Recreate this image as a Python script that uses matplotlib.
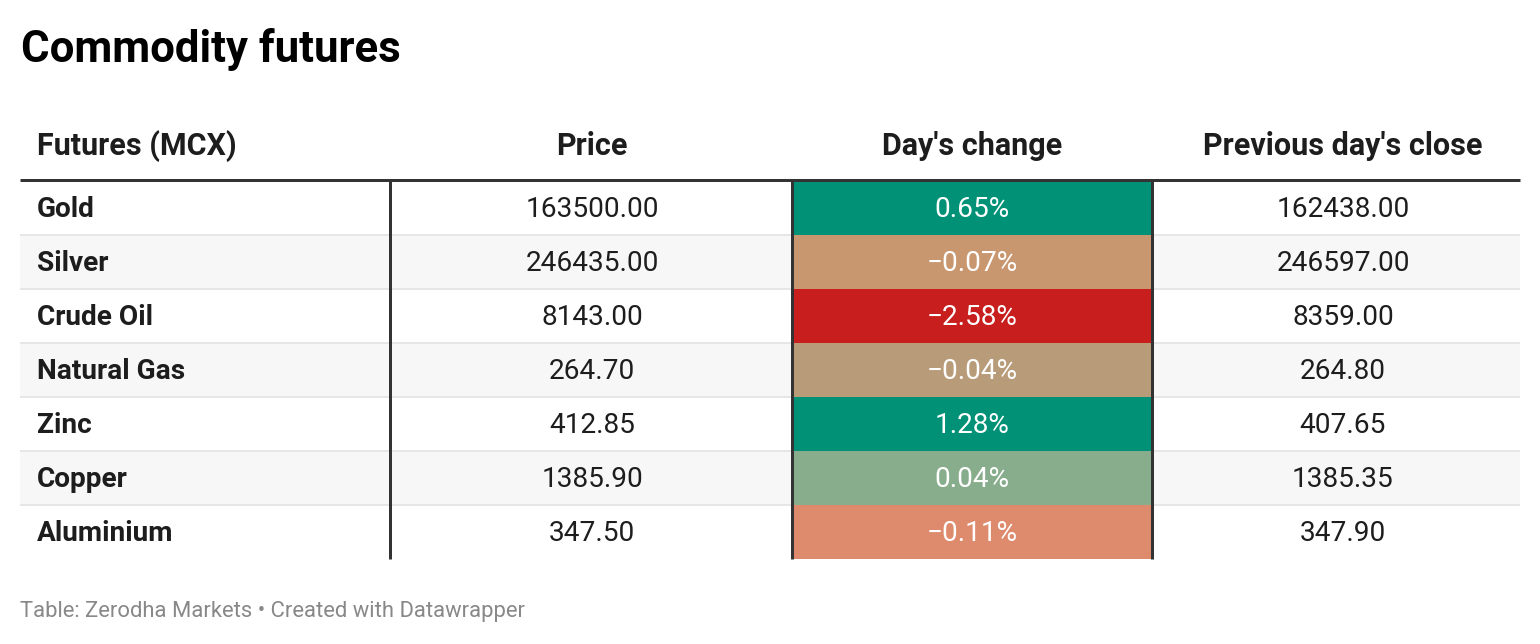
import matplotlib.pyplot as plt
from matplotlib.patches import Rectangle

plt.rcParams['font.family'] = ['Roboto', 'DejaVu Sans']

title = "Commodity futures"
footer = "Table: Zerodha Markets • Created with Datawrapper"

headers = ["Futures (MCX)", "Price", "Day's change", "Previous day's close"]
futures = ["Gold", "Silver", "Crude Oil", "Natural Gas", "Zinc", "Copper", "Aluminium"]
price = [163500.00, 246435.00, 8143.00, 264.70, 412.85, 1385.90, 347.50]
change = [0.65, -0.07, -2.58, -0.04, 1.28, 0.04, -0.11]
prev_close = [162438.00, 246597.00, 8359.00, 264.80, 407.65, 1385.35, 347.90]

# colours of the day's change cells, as shown
change_colors = ["#009177", "#c8966f", "#c81e1e", "#b89b79", "#009177", "#88ad8c", "#de8a6c"]

W, H = 1540, 644
fig = plt.figure(figsize=(W / 100, H / 100), dpi=100)
ax = fig.add_axes([0, 0, 1, 1])
ax.set_xlim(0, W)
ax.set_ylim(H, 0)
ax.axis("off")

left, right = 20, 1520
col_edges = [left, 390, 792, 1152, right]
text_x = [37, 592, 972, 1343]
table_top = 180.5
row_h = 54
n = len(futures)

px = 0.72  # points per pixel

ax.text(21, 62, title, fontsize=31.5, fontweight="bold", color="#000000", va="baseline")

# header
for j, h in enumerate(headers):
    ax.text(text_x[j], 155, h, fontsize=22, fontweight="bold", color="#1d1d1d",
            ha="left" if j == 0 else "center", va="baseline")

for i in range(n):
    top = table_top + i * row_h
    if i % 2 == 1:
        ax.add_patch(Rectangle((left, top), right - left, row_h, color="#f7f7f7", lw=0, zorder=0))
    ax.add_patch(Rectangle((col_edges[2], top), col_edges[3] - col_edges[2], row_h,
                           color=change_colors[i], lw=0, zorder=1))
    if i > 0:
        ax.hlines(top, left, right, color="#e6e6e6", lw=2 * px, zorder=0.5)
    cy = top + row_h / 2 + 2
    ax.text(text_x[0], cy, futures[i], fontsize=20.2, fontweight="bold", color="#1d1d1d",
            ha="left", va="center")
    ax.text(text_x[1], cy, f"{price[i]:.2f}", fontsize=20.2, color="#1d1d1d",
            ha="center", va="center")
    ax.text(text_x[2], cy, f"{change[i]:.2f}%".replace("-", "\u2212"), fontsize=20.2,
            color="#ffffff", ha="center", va="center", zorder=3)
    ax.text(text_x[3], cy, f"{prev_close[i]:.2f}", fontsize=20.2, color="#1d1d1d",
            ha="center", va="center")

bottom = table_top + n * row_h
ax.vlines(col_edges[1:4], table_top, bottom, color="#333333", lw=3 * px, zorder=2)
ax.hlines(table_top - 0.5, left, right, color="#333333", lw=3 * px, zorder=2)

ax.text(20, 617, footer, fontsize=15.8, color="#888888", va="baseline")

fig.savefig("out.png", dpi=100)
